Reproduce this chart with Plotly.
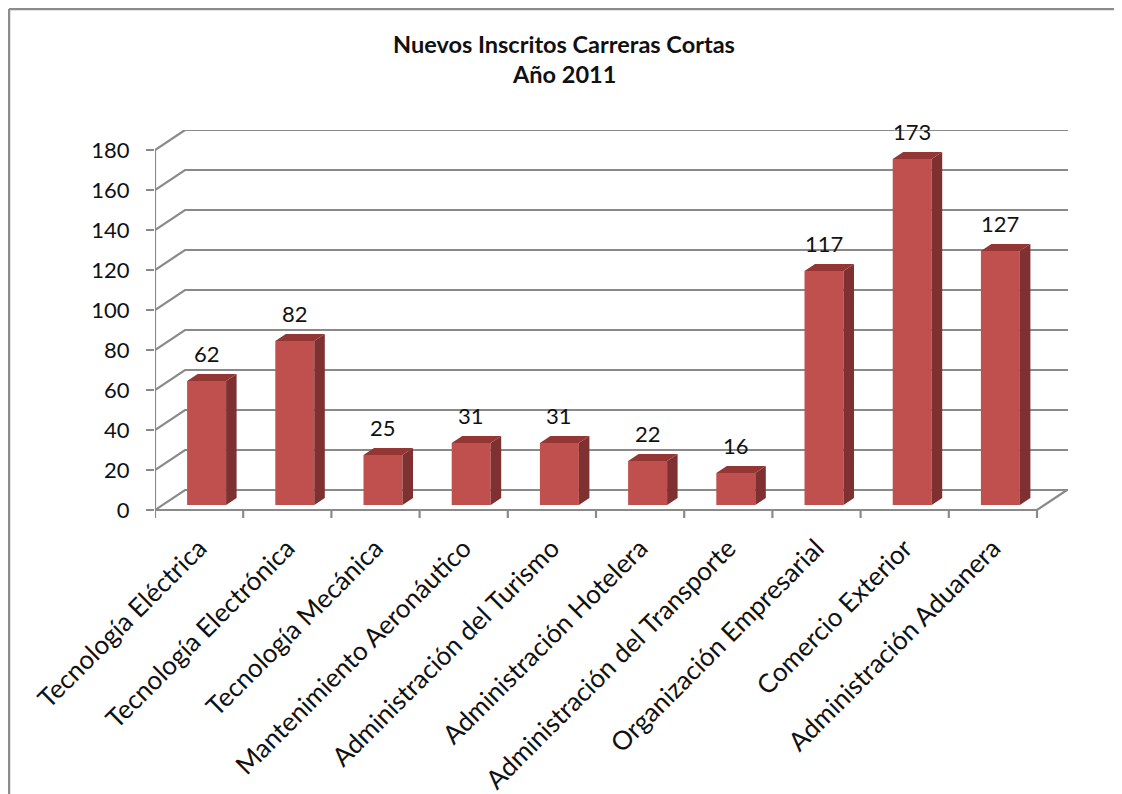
import plotly.graph_objects as go

# ---------------- data ----------------
categories = [
    "Tecnología Eléctrica",
    "Tecnología Electrónica",
    "Tecnología Mecánica",
    "Mantenimiento Aeronáutico",
    "Administración del Turismo",
    "Administración Hotelera",
    "Administración del Transporte",
    "Organización Empresarial",
    "Comercio Exterior",
    "Administración Aduanera",
]
values = [62, 82, 25, 31, 31, 22, 16, 117, 173, 127]
y_ticks = [0, 20, 40, 60, 80, 100, 120, 140, 160, 180]
title_lines = ["Nuevos Inscritos Carreras Cortas", "Año 2011"]

# ---------------- geometry / style ----------------
OFF = 8                      # page body margin in the browser
W, H = 1122 - OFF, 794 - OFF
L, T = 155 - OFF, 130 - OFF
RIGHT_PX = 1068 - OFF
PX_X = 88.2          # px per category
PX_Y = 2.0           # px per value unit
X0 = -0.5
X1 = X0 + (RIGHT_PX - L) / PX_X
Y_TOP = 187.5
Y_BOT = -8.0
B = H - (T + (Y_TOP - Y_BOT) * PX_Y)
R = W - RIGHT_PX
n = len(categories)

FRONT_DY = -2.5            # front axis offset (value units)
WALL_DX = 30 / PX_X        # back-wall depth
WALL_DY = 10
BAR_DX = 7.5 / PX_X        # bar front-face depth shift
BAR_W = 39 / PX_X
SIDE_DX = 10.5 / PX_X      # bar depth
SIDE_DY = 3.5

FRONT_C = "#C0504D"
SIDE_C = "#7E3130"
TOP_C = "#943634"
GRID_C = "#8A8A8A"
FONT = "Lato, 'Open Sans', sans-serif"

def pxx(px):  # reference page px -> paper
    return (px - OFF - L) / (W - L - R)

def pxy(py):
    return (H - B - (py - OFF)) / (H - T - B)

fig = go.Figure()

# front faces
bar_x = [i + BAR_DX for i in range(n)]
fig.add_trace(go.Bar(
    x=bar_x, y=values, width=BAR_W,
    marker=dict(color=FRONT_C, line=dict(width=0)),
    hoverinfo="skip", showlegend=False,
))

# side faces and top faces
sx, sy, tx, ty = [], [], [], []
for xc, v in zip(bar_x, values):
    xl = xc - BAR_W / 2
    xr = xc + BAR_W / 2
    sx += [xr, xr + SIDE_DX, xr + SIDE_DX, xr, xr, None]
    sy += [0, SIDE_DY, v + SIDE_DY, v, 0, None]
    tx += [xl, xr, xr + SIDE_DX, xl + SIDE_DX, xl, None]
    ty += [v, v, v + SIDE_DY, v + SIDE_DY, v, None]
fig.add_trace(go.Scatter(x=sx, y=sy, mode="lines", fill="toself",
                         fillcolor=SIDE_C, line=dict(width=0, color=SIDE_C),
                         hoverinfo="skip", showlegend=False))
fig.add_trace(go.Scatter(x=tx, y=ty, mode="lines", fill="toself",
                         fillcolor=TOP_C, line=dict(width=0, color=TOP_C),
                         hoverinfo="skip", showlegend=False))

shapes = []
# gridlines: left wall diagonal + back wall
for t in y_ticks:
    p = (f"M {X0},{t + FRONT_DY} L {X0 + WALL_DX},{t + FRONT_DY + WALL_DY} "
         f"L {X1},{t + FRONT_DY + WALL_DY}")
    shapes.append(dict(type="path", path=p, xref="x", yref="y", layer="below",
                       line=dict(color=GRID_C, width=2.2)))
# front floor edge + right diagonal
p = (f"M {X0},{FRONT_DY} L {X0 + n},{FRONT_DY} "
     f"L {X0 + n + WALL_DX},{FRONT_DY + WALL_DY}")
shapes.append(dict(type="path", path=p, xref="x", yref="y", layer="below",
                   line=dict(color=GRID_C, width=2.2)))
# vertical front axis
shapes.append(dict(type="line", xref="x", yref="y", layer="below",
                   x0=X0, x1=X0, y0=FRONT_DY, y1=y_ticks[-1] + FRONT_DY,
                   line=dict(color=GRID_C, width=2.2)))
# category tick marks
for k in range(n + 1):
    shapes.append(dict(type="line", xref="x", yref="y", layer="below",
                       x0=X0 + k, x1=X0 + k, y0=FRONT_DY, y1=FRONT_DY - 4,
                       line=dict(color=GRID_C, width=2.2)))
# outer border (top and left)
shapes.append(dict(type="line", xref="paper", yref="paper",
                   x0=pxx(OFF + 1), x1=pxx(1122), y0=pxy(OFF + 1), y1=pxy(OFF + 1),
                   line=dict(color="#8C8C8C", width=2.5)))
shapes.append(dict(type="line", xref="paper", yref="paper",
                   x0=pxx(OFF + 1), x1=pxx(OFF + 1), y0=pxy(OFF + 1), y1=pxy(794),
                   line=dict(color="#8C8C8C", width=2.5)))

annotations = []
for xc, v in zip(bar_x, values):
    annotations.append(dict(x=xc, y=v + SIDE_DY, xref="x", yref="y",
                            text=str(v), showarrow=False, yanchor="bottom",
                            yshift=5, font=dict(family=FONT, size=22, color="#111111")))
for j, line in enumerate(title_lines):
    annotations.append(dict(x=pxx(564), y=pxy(44 + 30 * j), xref="paper", yref="paper",
                            text=f"<b>{line}</b>", showarrow=False,
                            xanchor="center", yanchor="middle",
                            font=dict(family=FONT, size=23.5, color="#111111")))

fig.update_layout(
    width=W, height=H,
    margin=dict(l=L, r=R, t=T, b=B, autoexpand=False),
    paper_bgcolor="white", plot_bgcolor="white",
    shapes=shapes, annotations=annotations,
    showlegend=False,
    xaxis=dict(range=[X0, X1], tickmode="array", tickvals=list(range(n)),
               ticktext=categories, tickangle=-45, ticks="", showgrid=False,
               zeroline=False, showline=False, ticklabelstandoff=6,
               automargin=False,
               tickfont=dict(family=FONT, size=26, color="#111111")),
    yaxis=dict(range=[Y_BOT, Y_TOP], tickmode="array",
               tickvals=[t + FRONT_DY for t in y_ticks],
               ticktext=[str(t) for t in y_ticks],
               ticks="outside", ticklen=8, tickwidth=2, tickcolor=GRID_C,
               showgrid=False, zeroline=False, showline=False,
               ticklabelstandoff=12, automargin=False,
               tickfont=dict(family=FONT, size=22, color="#111111")),
)

fig.write_html("out.html")
